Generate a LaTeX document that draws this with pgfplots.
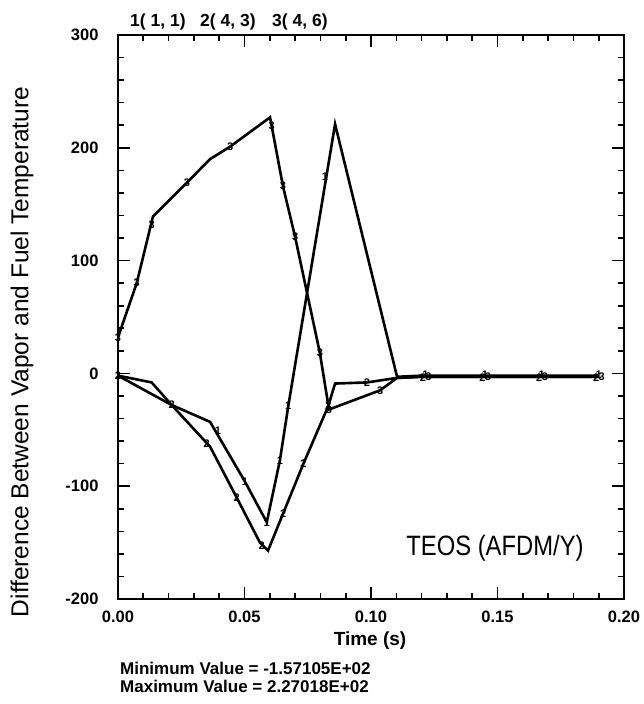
\documentclass[border=0pt]{standalone}
\usepackage{pgfplots}
\pgfplotsset{compat=1.18}
\usepackage{fontspec}
\setmainfont{Liberation Sans}
\newfontfamily\narrow[FakeStretch=0.85]{Liberation Sans}
\begin{document}
\begin{tikzpicture}
\path[use as bounding box] (-118pt,-105pt) rectangle (525pt,599pt);
\begin{axis}[
  at={(0pt,0pt)}, anchor=south west,
  width=506pt, height=564pt, scale only axis,
  xmin=0, xmax=0.2, ymin=-200, ymax=300,
  axis line style={line width=2.5pt},
  xtick={0,0.05,0.1,0.15,0.2},
  minor xtick={0.01,0.02,0.03,0.04,0.06,0.07,0.08,0.09,0.11,0.12,0.13,0.14,0.16,0.17,0.18,0.19},
  ytick={-200,-100,0,100,200,300},
  minor ytick={-180,-160,-140,-120,-80,-60,-40,-20,20,40,60,80,120,140,160,180,220,240,260,280},
  major tick length=12pt, minor tick length=6pt,
  every tick/.style={line width=1.6pt, black},
  tick align=inside,
  xtick pos=both, ytick pos=both,
  xticklabels={0.00,0.05,0.10,0.15,0.20},
  /pgf/number format/assume math mode=true,
  ticklabel style={font=\bfseries\fontsize{16.5}{16.5}\selectfont},
  yticklabel style={xshift=-16pt},
  xticklabel style={yshift=-8pt},
  clip=false,
  every axis plot/.append style={line width=2.6pt, black},
  text mark as node=true,
]
% curve 1 (1,1)
\addplot[no marks] coordinates {(0,-2) (0.0133,-8) (0.0212,-28) (0.0364,-43) (0.0502,-96) (0.0588,-132) (0.0640,-77) (0.0673,-29) (0.0858,221) (0.1103,-3) (0.12,-2) (0.15,-2) (0.19,-2)};
% curve 2 (4,3)
\addplot[no marks] coordinates {(0,-2) (0.0212,-28) (0.0364,-65) (0.0469,-110) (0.0561,-150) (0.0593,-157.1) (0.0653,-124) (0.0733,-80) (0.0831,-29) (0.0858,-9) (0.0984,-8) (0.1103,-4) (0.12,-3) (0.15,-3) (0.19,-3)};
% curve 3 (4,6)
\addplot[no marks] coordinates {(0,32) (0.0074,80) (0.0138,139) (0.0272,169) (0.0364,190) (0.0443,201) (0.0601,227) (0.0652,166) (0.0700,121) (0.0798,18) (0.0834,-32) (0.1036,-15) (0.1103,-4) (0.12,-3) (0.15,-3) (0.19,-3)};
% marks
\addplot[only marks, mark=text, text mark={1}, text mark style={font=\bfseries\fontsize{11}{11}\selectfont}] coordinates {(0.0395,-51) (0.0502,-96) (0.0588,-132) (0.0640,-77) (0.0673,-29) (0.0818,174) (0.1215,-1) (0.145,-1) (0.1675,-1) (0.19,-1)};
\addplot[only marks, mark=text, text mark={2}, text mark style={font=\bfseries\fontsize{11}{11}\selectfont}] coordinates {(0,-2) (0.0212,-28) (0.0351,-62) (0.0469,-110) (0.0568,-153) (0.0653,-124) (0.0733,-80) (0.0831,-29) (0.0984,-8) (0.1205,-4) (0.144,-4) (0.1665,-4) (0.189,-4)};
\addplot[only marks, mark=text, text mark={3}, text mark style={font=\bfseries\fontsize{11}{11}\selectfont}] coordinates {(0,32) (0.0074,80) (0.0133,132) (0.0272,169) (0.0443,201) (0.0607,220) (0.0652,166) (0.0700,121) (0.0798,18) (0.0834,-32) (0.1036,-15) (0.1227,-3) (0.1462,-3) (0.1687,-3) (0.1912,-3)};
\node[anchor=base west, font=\bfseries\fontsize{17.5}{17.5}\selectfont, inner sep=0pt] at (rel axis cs:0.0237,1) [yshift=8pt] {1( 1, 1)};
\node[anchor=base west, font=\bfseries\fontsize{17.5}{17.5}\selectfont, inner sep=0pt] at (rel axis cs:0.1621,1) [yshift=8pt] {2( 4, 3)};
\node[anchor=base west, font=\bfseries\fontsize{17.5}{17.5}\selectfont, inner sep=0pt] at (rel axis cs:0.3043,1) [yshift=8pt] {3( 4, 6)};
\node[font=\narrow\fontsize{28}{28}\selectfont] at (axis cs:0.149,-155) {TEOS (AFDM/Y)};
\end{axis}
\node[rotate=90, font=\fontsize{24.5}{24.5}\selectfont] at (-96pt,247pt) {Difference Between Vapor and Fuel Temperature};
\node[font=\bfseries\fontsize{19}{19}\selectfont] at (252pt,-42pt) {Time (s)};
\node[anchor=base west, font=\bfseries\fontsize{17}{17}\selectfont, inner sep=0pt] at (2pt,-75pt) {Minimum Value = -1.57105E+02};
\node[anchor=base west, font=\bfseries\fontsize{17}{17}\selectfont, inner sep=0pt] at (2pt,-93pt) {Maximum Value = 2.27018E+02};
\end{tikzpicture}
\end{document}
